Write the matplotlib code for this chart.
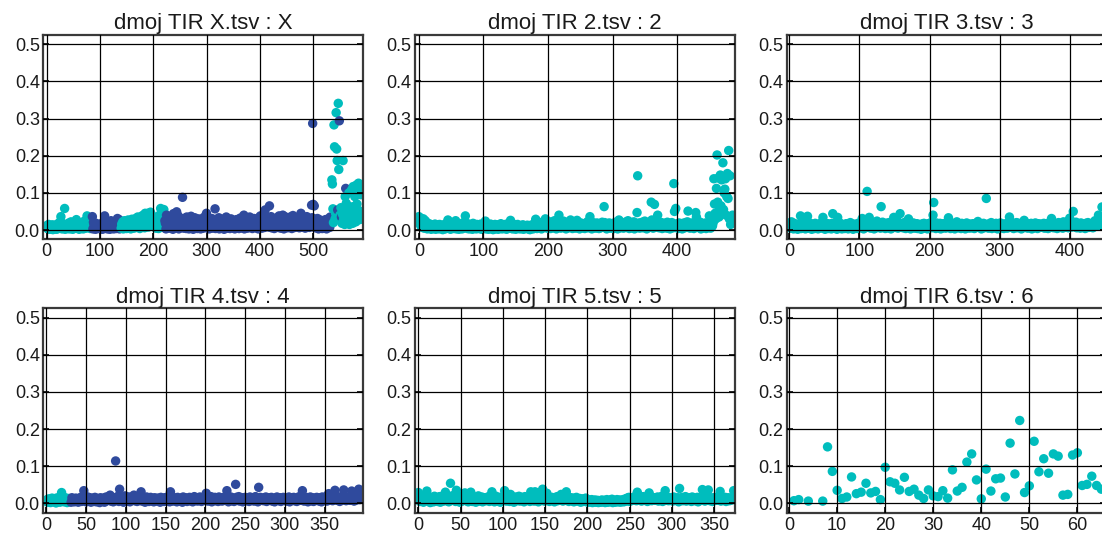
import numpy as np
import matplotlib
matplotlib.use("Agg")
import matplotlib.pyplot as plt
from matplotlib.ticker import MultipleLocator

plt.rcParams['font.family'] = ['Liberation Sans', 'DejaVu Sans']

TEAL = '#00bdbd'
BLUE = '#2f4a9d'

titles = ["dmoj TIR X.tsv : X", "dmoj TIR 2.tsv : 2", "dmoj TIR 3.tsv : 3",
          "dmoj TIR 4.tsv : 4", "dmoj TIR 5.tsv : 5", "dmoj TIR 6.tsv : 6"]

# values in thousandths (y * 1000), x = point index
p1_vals = [
    8,12,5,3,15,9,2,7,11,4,6,14,1,8,10,3,13,5,9,2,
    7,16,4,11,20,9,6,36,13,3,18,8,12,5,58,2,10,7,15,4,
    11,6,19,3,9,14,22,5,8,2,17,12,4,16,7,10,28,13,21,6,
    9,2,15,8,12,4,18,6,11,3,14,24,7,9,5,16,38,22,12,8,
    25,10,4,20,13,6,36,3,21,15,7,11,2,18,5,9,14,4,12,8,
    6,13,3,17,9,2,11,22,20,38,14,8,4,19,10,3,12,7,16,2,
    9,25,5,12,8,18,3,22,11,6,14,4,20,31,21,7,28,3,13,10,
    5,16,8,22,3,12,25,7,14,18,4,20,9,27,11,6,24,13,3,17,
    29,8,15,22,5,19,11,31,7,24,14,35,9,20,28,4,33,16,12,38,
    22,10,40,26,6,45,18,42,13,30,45,8,25,38,16,48,20,11,33,27,
    15,36,9,28,22,5,31,17,12,26,4,19,40,14,58,30,21,10,40,30,
    55,6,25,18,3,40,14,9,30,22,5,16,35,11,7,27,20,2,44,13,
    8,33,22,17,49,24,15,38,3,19,11,28,7,21,30,88,14,5,31,18,
    26,12,4,35,16,8,22,3,29,13,10,37,6,20,15,2,25,11,33,7,
    18,9,24,4,14,30,7,19,11,3,27,15,8,22,5,34,12,17,25,9,
    45,6,14,28,10,3,19,25,8,13,31,5,16,22,9,20,57,4,26,15,
    7,20,12,33,3,17,24,9,14,6,29,11,18,2,23,15,8,35,10,19,
    5,27,13,21,4,16,30,8,12,25,6,19,10,3,22,14,28,7,17,11,
    24,4,15,32,9,20,13,6,26,11,40,3,18,23,8,14,29,5,21,12,
    16,35,7,22,10,27,4,19,13,31,8,24,15,6,28,11,20,3,33,17,
    9,38,14,25,5,21,30,12,24,7,54,18,26,10,34,15,22,8,65,28,
    13,36,6,19,24,11,31,4,17,27,9,22,14,33,7,20,38,12,25,5,
    18,29,10,40,15,3,23,36,9,19,27,12,6,31,16,22,8,35,13,26,
    4,20,39,11,28,17,7,33,25,14,24,9,21,32,6,30,15,45,12,25,
    8,19,34,11,27,5,22,16,36,9,24,13,30,7,18,26,10,67,33,287,
    69,20,65,28,6,17,24,9,31,14,3,22,11,27,8,19,13,4,25,15,
    10,21,6,28,14,3,18,9,30,12,24,7,35,16,25,135,124,57,20,283,
    224,30,45,316,218,187,54,341,163,294,40,26,60,35,18,42,187,28,50,15,
    90,112,72,38,20,55,30,100,15,45,62,25,108,40,18,117,63,33,90,48,
    22,121,70,35,110,126,52,28,45,95,110,30]
# colour class runs: (first index, class)  t = teal, b = blue
p1_runs = [(0, 't'), (86, 'b'), (140, 't'), (222, 'b'), (535, 't')]
p1_blue_extra = [546, 549, 553, 561]

p2_vals = [
    36,28,15,32,8,22,12,30,5,18,25,10,20,3,14,9,17,6,12,2,
    8,14,4,11,7,16,2,9,13,5,10,3,15,7,12,4,9,1,14,6,
    10,3,12,18,7,27,5,11,15,2,9,13,6,17,4,12,8,25,3,14,
    7,10,2,16,9,5,13,3,11,20,6,15,38,8,12,4,17,9,3,10,
    14,6,11,2,18,8,5,13,9,3,15,7,12,4,10,6,16,2,9,13,
    5,11,8,24,3,14,7,10,2,12,6,16,9,4,13,1,10,7,15,3,
    11,6,14,2,9,12,5,17,8,3,13,7,10,4,15,9,2,12,6,18,
    8,14,26,5,11,3,16,9,7,13,2,10,6,15,4,12,8,3,11,5,
    9,14,2,12,7,4,10,6,13,3,8,11,1,9,5,14,7,3,12,6,
    18,29,10,4,15,8,21,13,6,17,3,11,20,9,14,24,30,7,16,5,
    12,19,8,22,4,15,10,18,6,13,25,9,16,3,20,11,7,40,14,22,
    5,17,9,13,24,7,11,19,3,15,10,21,6,14,18,27,9,12,4,16,
    8,20,13,5,17,26,10,7,15,3,12,19,9,14,6,11,17,4,13,8,
    15,22,6,10,18,36,9,14,3,12,20,7,16,11,5,13,19,8,15,4,
    10,17,6,14,21,9,12,63,20,7,13,3,16,11,8,19,5,14,10,6,
    12,18,4,15,9,21,7,13,3,17,27,10,6,14,19,8,12,5,16,9,
    11,22,7,15,25,10,4,18,13,6,20,9,14,22,3,16,11,8,47,146,
    12,19,5,14,9,17,21,6,13,10,24,8,15,3,18,11,7,16,9,20,
    75,27,12,5,19,69,8,15,22,10,40,14,6,18,11,9,20,4,16,13,
    7,18,10,14,5,21,12,8,17,3,15,9,20,11,6,125,50,13,58,16,
    9,14,4,19,11,7,16,12,3,18,10,15,6,20,9,13,22,51,8,14,
    5,17,11,19,8,13,4,16,10,47,35,12,18,7,14,9,21,3,15,11,
    6,17,12,8,19,4,14,10,16,7,38,13,5,18,9,12,20,138,70,45,
    30,112,202,75,140,35,60,148,65,135,50,181,55,100,110,138,40,90,152,85,
    214,30,146,15,35,25,40]
p2_runs = [(0, 't')]

p3_vals = [
    10,15,5,22,8,12,3,18,9,14,6,11,2,16,7,13,38,4,20,9,
    12,6,17,3,14,8,37,11,5,19,9,13,2,15,7,10,4,18,12,6,
    14,3,9,16,7,11,20,5,34,13,8,2,15,10,6,17,4,12,9,14,
    3,18,44,7,12,5,16,10,2,34,13,8,19,6,11,3,15,9,14,4,
    10,17,6,12,3,15,8,20,13,5,11,2,16,9,14,7,12,4,18,10,
    6,13,19,8,31,15,3,22,11,16,7,104,14,9,34,18,5,12,20,8,
    15,3,17,10,6,24,13,19,8,14,5,63,11,21,7,16,12,4,18,9,
    13,6,20,11,15,3,18,9,22,34,12,7,16,10,25,5,19,13,44,8,
    14,11,6,17,9,21,4,13,18,12,30,8,15,3,16,10,7,19,12,5,
    14,9,17,4,11,15,8,13,2,16,10,6,18,12,5,14,9,3,17,11,
    8,15,20,6,13,40,74,11,16,4,19,9,14,7,12,18,3,15,10,6,
    17,11,14,5,19,9,13,33,8,16,4,12,18,10,7,15,3,13,20,22,
    9,16,6,14,11,4,18,8,13,10,15,3,12,19,7,14,9,5,16,11,
    13,6,17,10,4,15,12,8,19,23,14,7,11,16,3,13,9,18,6,12,
    15,85,10,14,5,17,8,12,20,4,13,16,9,11,6,18,10,3,15,12,
    8,19,14,6,11,16,4,13,9,17,12,5,15,10,35,25,18,7,13,11,
    4,16,9,14,20,6,12,18,8,15,11,3,17,10,13,26,7,19,9,14,
    5,12,16,8,11,18,3,14,10,6,15,19,9,13,4,17,11,7,16,12,
    8,14,10,18,5,13,16,9,12,4,19,11,15,7,31,14,10,6,18,12,
    9,16,4,13,20,11,7,15,12,18,5,22,14,10,17,8,13,19,6,25,
    32,11,16,8,14,50,12,18,9,21,6,15,10,17,13,5,19,11,14,8,
    16,12,4,18,10,14,20,7,13,15,9,17,11,6,19,12,25,15,10,18,
    13,40,20,12,30,18,62,25,15,35]
p3_runs = [(0, 't')]

p4_vals = [
    5,10,3,12,7,2,9,14,4,11,6,13,1,8,15,5,10,3,12,29,
    8,18,4,11,6,14,2,9,13,5,10,3,15,7,12,4,9,14,6,11,
    3,13,8,16,5,12,9,34,7,15,4,11,17,6,15,10,3,14,8,12,
    5,16,9,4,13,7,11,2,15,8,12,6,14,3,10,17,7,13,9,18,
    22,6,12,16,4,14,10,114,8,13,19,5,38,11,15,7,12,3,16,20,
    9,14,6,11,17,4,13,8,15,10,22,7,12,18,5,14,9,16,11,31,
    6,13,8,15,3,12,17,9,14,5,11,16,7,13,10,4,15,8,12,6,
    14,9,11,3,16,8,13,10,5,15,12,7,17,9,14,4,31,11,13,6,
    10,15,8,12,4,16,9,13,6,11,14,3,17,10,8,15,12,5,13,9,
    16,7,11,14,4,12,18,8,15,10,6,13,9,17,11,5,14,12,8,16,
    10,27,13,6,15,9,12,18,4,14,11,8,16,7,13,10,5,17,12,9,
    14,6,11,16,8,13,10,34,15,4,12,9,17,7,14,11,5,13,51,16,
    8,12,18,6,14,10,15,4,13,9,16,11,7,14,12,5,17,10,8,13,
    15,6,11,18,9,14,4,43,12,16,8,13,10,7,15,11,17,5,14,9,
    12,15,8,16,6,13,10,4,14,11,17,9,12,7,15,5,13,10,16,8,
    14,11,6,13,9,17,4,12,15,8,10,16,7,14,11,5,13,9,18,12,
    8,15,34,10,6,14,12,16,9,4,13,11,17,7,15,10,5,14,12,8,
    16,9,13,6,15,11,4,17,10,14,8,12,18,6,13,26,15,9,11,16,
    7,14,12,35,10,18,8,13,16,5,15,11,19,9,36,14,12,7,17,10,
    15,13,8,18,33,11,14,6,16,12,9,15,13,38,10,18,14]
p4_runs = [(0, 't'), (31, 'b')]

p5_vals = [
    29,12,5,18,8,15,3,11,20,7,33,14,6,10,2,16,9,13,4,19,
    8,12,15,5,10,18,3,14,9,20,6,11,30,16,7,13,4,19,54,10,
    15,8,22,12,5,35,17,9,14,3,11,18,6,13,20,28,10,7,16,4,
    12,15,30,9,5,18,11,14,3,16,8,20,10,6,13,17,4,11,15,9,
    7,14,12,18,5,10,16,31,8,13,4,11,19,6,15,9,12,3,17,10,
    14,8,34,12,6,16,10,18,5,24,13,9,15,3,11,17,7,14,10,19,
    6,12,16,9,13,4,18,11,8,15,10,14,5,31,12,17,9,6,31,13,
    11,16,4,14,19,10,8,38,13,6,15,12,27,9,17,5,14,11,16,8,
    12,4,15,10,18,7,13,9,16,24,11,6,14,12,8,31,10,17,5,13,
    9,15,7,12,4,14,10,16,6,11,8,13,3,9,12,5,10,7,14,4,
    6,9,3,8,5,10,2,7,4,9,3,6,8,2,5,7,3,9,4,6,
    8,2,5,10,3,7,4,9,6,11,2,5,8,3,7,10,4,6,9,3,
    7,5,10,4,8,12,6,14,9,16,5,11,13,8,15,10,18,12,7,30,
    14,9,16,11,6,13,18,8,15,10,17,5,12,28,9,14,7,16,11,13,
    8,15,10,17,6,12,14,9,19,5,13,11,34,8,16,10,7,15,12,9,
    14,6,17,11,8,13,10,15,4,40,12,9,16,7,14,11,18,6,13,10,
    8,15,12,5,17,10,14,7,13,9,16,4,11,15,8,12,37,10,14,6,
    17,9,13,36,11,7,15,12,5,14,10,16,8,13,9,11,15,32,6,12,
    14,8,10,16,5,13,11,15,7,12,9,14,10,34]
p5_runs = [(0, 't')]

nan = float('nan')
p6_vals = [nan,7,10,nan,6,nan,nan,6,152,86,35,13,17,71,26,30,54,28,32,10,
           97,58,54,36,70,32,38,22,13,36,20,18,34,14,90,33,43,111,133,63,
           12,92,33,66,68,17,162,79,223,29,47,167,85,120,81,133,127,22,24,130,
           136,48,51,73,48,38]
p6_runs = [(0, 't')]

panels = [(p1_vals, p1_runs, p1_blue_extra), (p2_vals, p2_runs, []), (p3_vals, p3_runs, []),
          (p4_vals, p4_runs, []), (p5_vals, p5_runs, []), (p6_vals, p6_runs, [])]
x_limits = [(-6, 593), (-6, 489), (-3.7, 452), (-4, 398), (-4, 374), (-0.5, 66)]
x_steps = [100, 100, 100, 50, 50, 10]
y_ticks = [0.0, 0.1, 0.2, 0.3, 0.4, 0.5]

W, H = 1102, 536
fig = plt.figure(figsize=(W / 100, H / 100), dpi=100)
col_left = [43.3, 415.0, 786.7]
row_top = [35.0, 308.3]
ax_w, ax_h = 319.5, 204.3

for i, (vals, runs, extra) in enumerate(panels):
    r, c = divmod(i, 3)
    ax = fig.add_axes([col_left[c] / W, 1 - (row_top[r] + ax_h) / H, ax_w / W, ax_h / H])
    y = np.array(vals, dtype=float) / 1000.0
    x = np.arange(len(y))
    cls = np.empty(len(y), dtype=object)
    for k, (start, name) in enumerate(runs):
        end = runs[k + 1][0] if k + 1 < len(runs) else len(y)
        cls[start:end] = name
    for e in extra:
        cls[e] = 'b'
    colors = [TEAL if cc == 't' else BLUE for cc in cls]
    ax.scatter(x, y, s=46, c=colors, linewidths=0, zorder=1)
    ax.set_xlim(*x_limits[i])
    ax.set_ylim(-0.025, 0.525)
    ax.set_yticks(y_ticks)
    ax.set_yticklabels([f"{t:.1f}" for t in y_ticks])
    ax.xaxis.set_major_locator(MultipleLocator(x_steps[i]))
    ax.grid(True, color='black', linewidth=0.9)
    ax.set_axisbelow(False)
    for sp in ax.spines.values():
        sp.set_color('#3a3a3a')
        sp.set_linewidth(1.6)
    ax.tick_params(axis='both', direction='in', length=4, width=1.2, color='black',
                   labelsize=13, labelcolor='#1a1a1a', right=True, top=False)
    ax.tick_params(axis='y', pad=2.5)
    ax.tick_params(axis='x', pad=3)
    ax.set_title(titles[i], fontsize=16, pad=4, color='#1a1a1a')

fig.savefig("out.png", dpi=100)
